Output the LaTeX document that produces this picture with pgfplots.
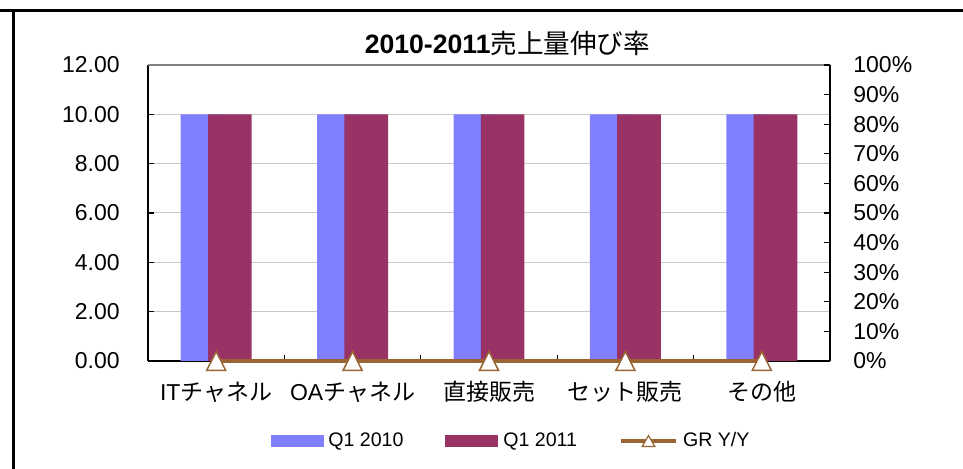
\documentclass[border=0pt]{standalone}
\usepackage{pgfplots}
\pgfplotsset{compat=1.18}
\usepackage{fontspec}
\setmainfont{Liberation Sans}
\newfontfamily\cjk{Noto Sans CJK JP}
\definecolor{qten}{HTML}{8080FF}
\definecolor{qeleven}{HTML}{993366}
\definecolor{grbrown}{HTML}{996633}
\definecolor{gridc}{HTML}{C8C8C8}

\begin{document}
\begin{tikzpicture}
\path[use as bounding box] (0,0) rectangle (481.5pt,234.5pt);
% outer frame (top and left edge only)
\draw[line width=1.5pt] (0,229.2pt) -- (481.5pt,229.2pt);
\draw[line width=1.5pt] (6.7pt,229.95pt) -- (6.7pt,0);
\node[font=\fontsize{13.3}{16}\selectfont] at (253.75pt,213pt)
  {\textbf{2010-2011}{\cjk 売上量伸び率}};

% left axis: bars
\begin{axis}[
  at={(74pt,54pt)}, anchor=south west,
  scale only axis, width=341pt, height=148pt,
  xmin=-0.5, xmax=4.5, ymin=0, ymax=12,
  axis x line*=bottom, axis y line*=left,
  axis line style={black, line width=0.6pt},
  tick align=inside, major tick length=3pt,
  tick style={black, line width=0.6pt},
  ytick={0,2,4,6,8,10,12},
  /pgf/number format/fixed, /pgf/number format/fixed zerofill,
  /pgf/number format/precision=2, /pgf/number format/assume math mode=true,
  yticklabel style={font=\fontsize{11.5}{13}\selectfont, anchor=east, inner sep=0pt, xshift=-14pt},
  ymajorgrids, grid style={gridc, line width=0.5pt},
  xtick={0.5,1.5,2.5,3.5}, xticklabels={},
  extra x ticks={0,1,2,3,4},
  extra x tick labels={{IT{\cjk チャネル}},{OA{\cjk チャネル}},{\cjk 直接販売},{\cjk セット販売},{\cjk その他}},
  extra x tick style={major tick length=0pt, tick style={draw=none},
    tick label style={font=\fontsize{11.5}{13}\selectfont, anchor=base, inner sep=0pt, yshift=-20pt}},
  legend style={at={(0.5337,-0.2703)}, anchor=center, draw=none, fill=none,
    legend columns=-1, font=\fontsize{9.8}{11}\selectfont,
    /tikz/every odd column/.append style={column sep=0.5pt},
    /tikz/every even column/.append style={column sep=19pt}},
]
\addplot[ybar, bar width=0.32, bar shift=-0.1, fill=qten, draw=none, forget plot]
  coordinates {(0,10) (1,10) (2,10) (3,10) (4,10)};
\addplot[ybar, bar width=0.32, bar shift=0.1, fill=qeleven, draw=none, forget plot]
  coordinates {(0,10) (1,10) (2,10) (3,10) (4,10)};
\draw[gray, line width=0.75pt] (rel axis cs:0,1) -- (rel axis cs:1,1);
\addlegendimage{legend image code/.code={\fill[qten] (0pt,-2.75pt) rectangle (26pt,2.75pt);}}
\addlegendentry{Q1 2010}
\addlegendimage{legend image code/.code={\fill[qeleven] (0pt,-2.75pt) rectangle (26pt,2.75pt);}}
\addlegendentry{Q1 2011}
\addlegendimage{legend image code/.code={
  \draw[grbrown, line width=2pt] (0pt,0pt) -- (27.5pt,0pt);
  \path plot[mark=triangle*, mark size=3.6pt,
    mark options={draw=grbrown, fill=white, line width=0.6pt, yshift=-0.9pt}]
    coordinates {(13.75pt,0pt)};}}
\addlegendentry{GR Y/Y}
\end{axis}

% right axis: growth rate line
\begin{axis}[
  at={(74pt,54pt)}, anchor=south west,
  scale only axis, width=341pt, height=148pt,
  xmin=-0.5, xmax=4.5, ymin=0, ymax=1,
  axis x line=none, axis y line*=right,
  axis line style={black, line width=0.6pt},
  tick align=inside, major tick length=3pt,
  tick style={black, line width=0.6pt},
  xtick=\empty,
  ytick={0,0.1,0.2,0.3,0.4,0.5,0.6,0.7,0.8,0.9,1},
  yticklabels={0\%,10\%,20\%,30\%,40\%,50\%,60\%,70\%,80\%,90\%,100\%},
  yticklabel style={font=\fontsize{11.5}{13}\selectfont, anchor=west, inner sep=0pt, xshift=11.5pt},
  clip=false,
]
\addplot[grbrown, line width=2pt, mark=triangle*, mark size=6.3pt,
  mark options={draw=grbrown, fill=white, line width=0.75pt, xscale=0.875, yshift=-1.575pt}]
  coordinates {(0,0) (1,0) (2,0) (3,0) (4,0)};
\end{axis}
\end{tikzpicture}
\end{document}
